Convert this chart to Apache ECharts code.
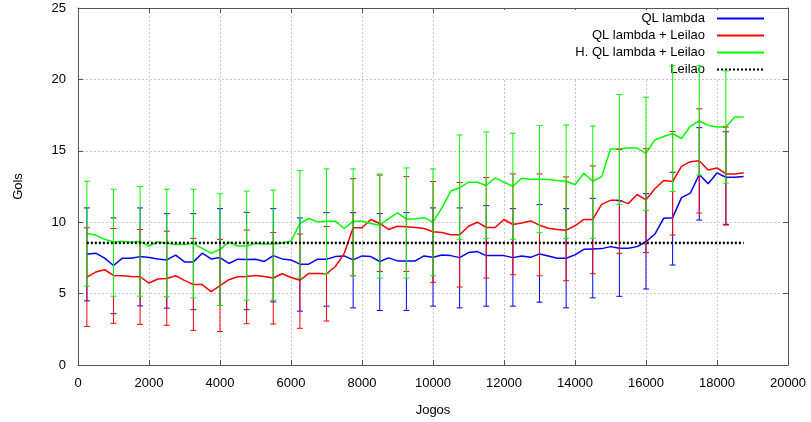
<!DOCTYPE html>
<html>
<head>
<meta charset="utf-8">
<script src="https://cdn.jsdelivr.net/npm/echarts@6/dist/echarts.min.js"></script>
<style>
  html, body { margin: 0; padding: 0; background: #fff; }
  #main { width: 811px; height: 422px; }
</style>
</head>
<body>
<div id="main"></div>
<script>
// dados
var jogos = [250, 500, 750, 1000, 1250, 1500, 1750, 2000, 2250, 2500, 2750, 3000, 3250, 3500, 3750,
    4000, 4250, 4500, 4750, 5000, 5250, 5500, 5750, 6000, 6250, 6500, 6750, 7000, 7250, 7500,
    7750, 8000, 8250, 8500, 8750, 9000, 9250, 9500, 9750, 10000, 10250, 10500, 10750, 11000, 11250,
    11500, 11750, 12000, 12250, 12500, 12750, 13000, 13250, 13500, 13750, 14000, 14250, 14500, 14750, 15000,
    15250, 15500, 15750, 16000, 16250, 16500, 16750, 17000, 17250, 17500, 17750, 18000, 18250, 18500, 18750];

var qlLambda = [7.76, 7.83, 7.48, 6.97, 7.48, 7.48, 7.59, 7.52, 7.43, 7.36, 7.69, 7.22, 7.22,
    7.83, 7.43, 7.52, 7.11, 7.41, 7.39, 7.41, 7.25, 7.66, 7.43, 7.36, 7.06, 7.06, 7.41,
    7.41, 7.59, 7.64, 7.36, 7.64, 7.59, 7.25, 7.5, 7.29, 7.29, 7.29, 7.64, 7.55,
    7.71, 7.66, 7.52, 7.87, 7.94, 7.66, 7.66, 7.66, 7.52, 7.64, 7.54, 7.78, 7.64, 7.48,
    7.48, 7.71, 8.1, 8.13, 8.15, 8.29, 8.17, 8.17, 8.29, 8.63, 9.17, 10.28, 10.32,
    11.72, 12.04, 13.34, 12.69, 13.45, 13.15, 13.15, 13.2];

var qlLeilao = [6.16, 6.51, 6.67, 6.27, 6.25, 6.2, 6.18, 5.74, 6.02, 6.06, 6.25, 5.93, 5.63,
    5.63, 5.14, 5.56, 5.97, 6.18, 6.2, 6.27, 6.2, 6.09, 6.39, 6.13, 5.93, 6.41, 6.41,
    6.39, 6.9, 7.82, 9.61, 9.61, 10.19, 9.91, 9.49, 9.72, 9.68, 9.63, 9.56, 9.33,
    9.28, 9.12, 9.12, 9.72, 10.0, 9.63, 9.63, 10.19, 9.84, 9.95, 10.09, 9.79, 9.58, 9.49,
    9.44, 9.75, 10.19, 10.19, 11.25, 11.53, 11.53, 11.3, 11.94, 11.57, 12.34, 12.92, 12.85,
    13.91, 14.24, 14.31, 13.66, 13.8, 13.38, 13.38, 13.47];

var hqlLeilao = [9.21, 9.1, 8.8, 8.61, 8.66, 8.59, 8.66, 8.33, 8.61, 8.52, 8.43, 8.43, 8.52,
    8.17, 7.83, 8.1, 8.61, 8.33, 8.33, 8.52, 8.47, 8.47, 8.54, 8.66, 9.91, 10.26, 10.02,
    10.07, 10.07, 9.56, 10.07, 10.07, 9.91, 9.79, 10.25, 10.65, 10.21, 10.25, 10.32, 10.0,
    11.0, 12.18, 12.41, 12.8, 12.8, 12.57, 13.1, 12.8, 12.52, 13.08, 13.01, 13.01, 12.99, 12.92,
    12.87, 12.62, 13.43, 12.87, 13.19, 15.12, 15.12, 15.19, 15.19, 14.82, 15.76, 16.0, 16.21,
    15.86, 16.72, 17.09, 16.79, 16.67, 16.67, 17.36, 17.36];

var leilao = 8.55;
var leilaoInicio = 250;
var leilaoFim = 18750;

// barras de erro
var errJogos = [250, 1000, 1750, 2500, 3250, 4000, 4750, 5500, 6250, 7000, 7750, 8500, 9250,
    10000, 10750, 11500, 12250, 13000, 13750, 14500, 15250, 16000, 16750, 17500, 18250];

var qlLambdaMin = [4.49, 3.59, 4.14, 3.98, 3.87, 4.17, 3.87, 4.42, 3.77, 4.12, 4.0, 3.82, 3.82,
    4.12, 4.0, 4.12, 4.12, 4.4, 4.0, 4.7, 4.81, 5.32, 7.0, 10.15, 9.85];
var qlLambdaMax = [11.0, 10.3, 11.0, 10.6, 10.6, 10.95, 10.69, 10.95, 10.3, 10.67, 10.67, 10.6, 10.67,
    11.0, 11.0, 11.16, 10.95, 11.23, 10.95, 11.67, 11.5, 12.0, 13.5, 16.62, 16.33];

var qlLeilaoMin = [2.7, 2.92, 2.85, 2.78, 2.43, 2.34, 2.89, 2.87, 2.57, 3.08, 6.25, 6.55, 6.55,
    5.79, 5.46, 6.09, 6.32, 6.25, 5.9, 6.39, 7.82, 7.87, 9.1, 10.64, 9.8];
var qlLeilaoMax = [9.61, 9.56, 9.49, 9.37, 8.87, 8.8, 9.45, 9.28, 9.17, 9.7, 13.05, 13.3, 13.19,
    12.85, 12.78, 13.13, 13.38, 13.38, 13.17, 13.94, 15.1, 15.15, 16.35, 17.94, 16.67];

var hqlLeilaoMin = [5.53, 4.82, 4.82, 4.79, 4.7, 4.17, 4.54, 4.54, 6.09, 6.39, 6.25, 6.09, 6.09,
    6.25, 8.8, 8.87, 8.8, 9.26, 8.87, 8.87, 11.25, 10.83, 12.15, 13.3, 12.73];
var hqlLeilaoMax = [12.87, 12.31, 12.5, 12.31, 12.31, 11.99, 12.18, 12.25, 13.61, 13.73, 13.73, 13.38, 13.8,
    13.73, 16.11, 16.32, 16.23, 16.78, 16.81, 16.74, 18.94, 18.75, 20.95, 20.95, 20.6];

var fonte = "'Liberation Sans', Arial, sans-serif";

function pares(xs, ys) {
    var out = [];
    for (var i = 0; i < xs.length; i++) out.push([xs[i], ys[i]]);
    return out;
}

function erros(xs, lo, hi) {
    var out = [];
    for (var i = 0; i < xs.length; i++) out.push([xs[i], lo[i], hi[i]]);
    return out;
}

function barraErro(cor) {
    return function (params, api) {
        var x = api.value(0);
        var a = api.coord([x, api.value(1)]);
        var b = api.coord([x, api.value(2)]);
        var w = 3;
        var st = { stroke: cor, lineWidth: 1 };
        return {
            type: 'group',
            children: [
                { type: 'line', shape: { x1: a[0], y1: a[1], x2: b[0], y2: b[1] }, style: st },
                { type: 'line', shape: { x1: a[0] - w, y1: a[1], x2: a[0] + w, y2: a[1] }, style: st },
                { type: 'line', shape: { x1: b[0] - w, y1: b[1], x2: b[0] + w, y2: b[1] }, style: st }
            ]
        };
    };
}

var chartDom = document.getElementById('main');
var myChart = echarts.init(chartDom);
var option;

var gridCor = '#c8c8c8';
var eixoCor = '#555';

option = {
    animation: false,
    textStyle: { fontFamily: fonte },
    grid: { left: 78, right: 23, top: 8, bottom: 56 },
    legend: {
        data: ['QL lambda', 'QL lambda + Leilao', 'H. QL lambda + Leilao', 'Leilao'],
        orient: 'vertical',
        align: 'right',
        right: 26,
        top: 10,
        padding: [2, 20, 2, 95],
        itemGap: 4,
        itemWidth: 47,
        itemHeight: 14,
        backgroundColor: '#fff',
        itemStyle: { opacity: 0 },
        textStyle: { fontFamily: fonte, fontSize: 13, color: '#000', padding: [0, 7, 0, 0] }
    },
    xAxis: [{
        type: 'value',
        min: 0,
        max: 20000,
        interval: 2000,
        name: 'Jogos',
        nameLocation: 'middle',
        nameGap: 39,
        nameTextStyle: { fontFamily: fonte, fontSize: 13, color: '#000' },
        axisLine: { show: true, lineStyle: { color: eixoCor } },
        axisTick: { show: true, inside: true, length: 5, lineStyle: { color: eixoCor } },
        axisLabel: { fontFamily: fonte, fontSize: 13, color: '#000', margin: 12,
            formatter: function (v) { return String(v); } },
        splitLine: { show: true, lineStyle: { color: gridCor, type: [2, 2] } }
    }, {
        type: 'value',
        position: 'top',
        min: 0,
        max: 20000,
        interval: 2000,
        axisLine: { show: true, onZero: false, lineStyle: { color: eixoCor } },
        axisTick: { show: true, inside: true, length: 5, lineStyle: { color: eixoCor } },
        axisLabel: { show: false },
        splitLine: { show: false }
    }],
    yAxis: [{
        type: 'value',
        min: 0,
        max: 25,
        interval: 5,
        name: 'Gols',
        nameLocation: 'middle',
        nameGap: 53,
        nameTextStyle: { fontFamily: fonte, fontSize: 13, color: '#000' },
        axisLine: { show: true, lineStyle: { color: eixoCor } },
        axisTick: { show: true, inside: true, length: 5, lineStyle: { color: eixoCor } },
        axisLabel: { fontFamily: fonte, fontSize: 13, color: '#000', margin: 12 },
        splitLine: { show: true, lineStyle: { color: gridCor, type: [2, 2] } }
    }, {
        type: 'value',
        position: 'right',
        min: 0,
        max: 25,
        interval: 5,
        axisLine: { show: true, onZero: false, lineStyle: { color: eixoCor } },
        axisTick: { show: true, inside: true, length: 5, lineStyle: { color: eixoCor } },
        axisLabel: { show: false },
        splitLine: { show: false }
    }],
    series: [
        {
            name: 'QL lambda',
            type: 'line',
            data: pares(jogos, qlLambda),
            showSymbol: false,
            symbol: 'none',
            color: '#0000ff',
            lineStyle: { color: '#0000ff', width: 1.5 },
            z: 3
        },
        {
            name: 'QL lambda + Leilao',
            type: 'line',
            data: pares(jogos, qlLeilao),
            showSymbol: false,
            symbol: 'none',
            color: '#ff0000',
            lineStyle: { color: '#ff0000', width: 1.5 },
            z: 3
        },
        {
            name: 'H. QL lambda + Leilao',
            type: 'line',
            data: pares(jogos, hqlLeilao),
            showSymbol: false,
            symbol: 'none',
            color: '#00ff00',
            lineStyle: { color: '#00ff00', width: 1.5 },
            z: 3
        },
        {
            name: 'errBlue',
            type: 'custom',
            renderItem: barraErro('#0000ff'),
            data: erros(errJogos, qlLambdaMin, qlLambdaMax),
            encode: { x: 0, y: [1, 2] },
            z: 5
        },
        {
            name: 'errRed',
            type: 'custom',
            renderItem: barraErro('#ff0000'),
            data: erros(errJogos, qlLeilaoMin, qlLeilaoMax),
            encode: { x: 0, y: [1, 2] },
            z: 5
        },
        {
            name: 'errGreen',
            type: 'custom',
            renderItem: barraErro('#00ff00'),
            data: erros(errJogos, hqlLeilaoMin, hqlLeilaoMax),
            encode: { x: 0, y: [1, 2] },
            z: 5
        },
        {
            name: 'Leilao',
            type: 'line',
            data: [[leilaoInicio, leilao], [leilaoFim, leilao]],
            showSymbol: false,
            symbol: 'none',
            color: '#000',
            lineStyle: { color: '#000', width: 2.5, type: [2, 2] },
            z: 6
        }
    ]
};

option && myChart.setOption(option);
</script>
</body>
</html>
